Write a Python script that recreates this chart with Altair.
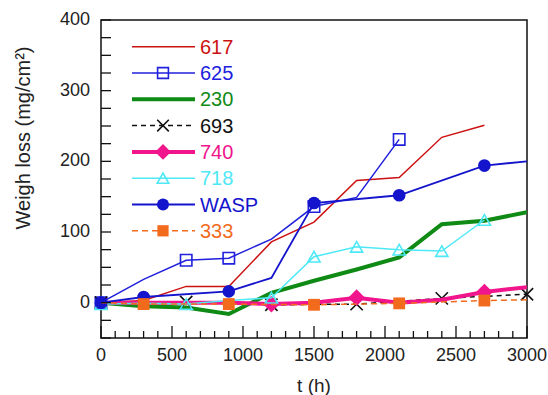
import altair as alt
import pandas as pd

# ---------------- data ----------------
SERIES = ["617", "625", "230", "693", "740", "718", "WASP", "333"]

T_617 = [0, 300, 600, 900, 1200, 1500, 1800, 2100, 2400, 2700]
W_617 = [0, 3, 23, 23, 86, 114, 173, 177, 234, 251]
M_617 = []

T_625 = [0, 300, 600, 900, 1200, 1500, 1800, 2100]
W_625 = [0, 33, 60, 63, 90, 136, 149, 231]
M_625 = [0, 600, 900, 1500, 2100]

T_230 = [0, 300, 600, 900, 1200, 1500, 1800, 2100, 2400, 2700, 3000]
W_230 = [0, -5, -7, -16, 14, 31, 47, 64, 111, 116, 128]
M_230 = []

T_693 = [0, 600, 1200, 1800, 2400, 3000]
W_693 = [0, 1, -3, -2, 6, 12]
M_693 = [0, 600, 1200, 1800, 2400, 3000]

T_740 = [0, 300, 600, 900, 1200, 1500, 1800, 2100, 2400, 2700, 3000]
W_740 = [0, 0, 0, 0, -2, 0, 7, 0, 4, 15, 22]
M_740 = [1200, 1800, 2700]

T_718 = [0, 300, 600, 900, 1200, 1500, 1800, 2100, 2400, 2700]
W_718 = [-2, -1, -2, 3, 7, 65, 79, 75, 73, 117]
M_718 = [0, 600, 1200, 1500, 1800, 2100, 2400, 2700]

T_WASP = [0, 300, 900, 1200, 1500, 2100, 2700, 3000]
W_WASP = [0, 8, 16, 35, 141, 152, 194, 200]
M_WASP = [0, 300, 900, 1500, 2100, 2700]

T_333 = [0, 300, 900, 1500, 2100, 2700, 3000]
W_333 = [0, -2, -2, -3, -1, 3, 4]
M_333 = [300, 900, 1500, 2100, 2700]

X_TICKS_MINOR = list(range(0, 3001, 100))
X_TICKS_MAJOR = list(range(0, 3001, 500))
Y_TICKS = list(range(-50, 401, 25))
Y_LABELS = [0, 100, 200, 300, 400]
X_TITLE = "t (h)"
Y_TITLE = "Weigh loss (mg/cm²)"

# ---------------- styles ----------------
XPATH = "M-1,-1L1,1M-1,1L1,-1"
STYLE = {
    "617":  dict(color="#cc1111", width=1.5, dash=None,   shape=None,          filled=False, size=0),
    "625":  dict(color="#2020dd", width=1.5, dash=None,   shape="square",      filled=False, size=130),
    "230":  dict(color="#0f8a14", width=4.0, dash=None,   shape=None,          filled=False, size=0),
    "693":  dict(color="#111111", width=1.5, dash=[5, 4], shape=XPATH,         filled=False, size=150),
    "740":  dict(color="#f0158c", width=4.0, dash=None,   shape="diamond",     filled=True,  size=280),
    "718":  dict(color="#4fe8f6", width=1.5, dash=None,   shape="triangle-up", filled=False, size=150),
    "WASP": dict(color="#1414cc", width=1.8, dash=None,   shape="circle",      filled=True,  size=160),
    "333":  dict(color="#f26b1d", width=1.5, dash=[6, 4], shape="square",      filled=True,  size=140),
}
DATA = {
    "617": (T_617, W_617, M_617), "625": (T_625, W_625, M_625),
    "230": (T_230, W_230, M_230), "693": (T_693, W_693, M_693),
    "740": (T_740, W_740, M_740), "718": (T_718, W_718, M_718),
    "WASP": (T_WASP, W_WASP, M_WASP), "333": (T_333, W_333, M_333),
}

W, H = 426, 318
FONT = "Liberation Sans"
TXT = "#222222"
xs = alt.Scale(domain=[0, 3000], nice=False, zero=False)
ys = alt.Scale(domain=[-50, 400], nice=False, zero=False)


def X(f="t:Q"):
    return alt.X(f, scale=xs, axis=None)


def Y(f="w:Q"):
    return alt.Y(f, scale=ys, axis=None)


layers = []

# data layers
for s in SERIES:
    T, V, M = DATA[s]
    st = STYLE[s]
    df = pd.DataFrame({"t": T, "w": V})
    lk = dict(color=st["color"], strokeWidth=st["width"], clip=True)
    if st["dash"]:
        lk["strokeDash"] = st["dash"]
    layers.append(alt.Chart(df).mark_line(**lk).encode(x=X(), y=Y()))
    if st["shape"] and M:
        mdf = df[df["t"].isin(M)]
        pk = dict(shape=st["shape"], size=st["size"], opacity=1, strokeWidth=1.6,
                  filled=st["filled"], color=st["color"])
        layers.append(alt.Chart(mdf).mark_point(**pk).encode(x=X(), y=Y()))

# inward tick marks: each tick is a two-point segment (lengths in pixels -> data units)
UY = 450 / H
UX = 3000 / W
rows = []
for k, v in enumerate(X_TICKS_MINOR):
    L = 12 if v in X_TICKS_MAJOR else 7
    rows += [{"id": f"x{k}", "t": v, "w": -50.0}, {"id": f"x{k}", "t": v, "w": -50 + L * UY}]
for k, v in enumerate(Y_TICKS):
    rows += [{"id": f"y{k}", "t": 0.0, "w": v}, {"id": f"y{k}", "t": 10 * UX, "w": v}]
tickdf = pd.DataFrame(rows)
layers.append(alt.Chart(tickdf).mark_line(color="#111111", strokeWidth=1.3).encode(
    x=X(), y=Y(), detail="id:N", order="w:Q"))

# tick labels and axis titles as text marks
layers.append(alt.Chart(pd.DataFrame({"t": X_TICKS_MAJOR})).mark_text(
    align="center", baseline="middle", font=FONT, fontSize=18, color=TXT).encode(
    x=X(), y=alt.value(H + 18), text=alt.Text("t:Q", format="d")))
layers.append(alt.Chart(pd.DataFrame({"w": Y_LABELS})).mark_text(
    align="right", baseline="middle", font=FONT, fontSize=18, color=TXT).encode(
    y=Y(), x=alt.value(-11), text=alt.Text("w:Q", format="d")))
layers.append(alt.Chart(alt.Data(values=[{"label": X_TITLE}])).mark_text(
    align="center", baseline="middle", font=FONT, fontSize=19, color=TXT).encode(
    x=alt.value(W / 2), y=alt.value(H + 48), text="label:N"))
layers.append(alt.Chart(alt.Data(values=[{"label": Y_TITLE}])).mark_text(
    align="center", baseline="middle", font=FONT, fontSize=20, color=TXT, angle=270).encode(
    x=alt.value(-77), y=alt.value(118), text="label:N"))

# legend layers (layout positions in pixels)
LEG_Y0, LEG_STEP = 26.7, 26.3
LEG_X1, LEG_X2, LEG_XM, LEG_XT = 31, 94, 62, 99
for i, s in enumerate(SERIES):
    st = STYLE[s]
    yy = LEG_Y0 + i * LEG_STEP
    one = alt.Data(values=[{"label": s}])
    rk = dict(color=st["color"], strokeWidth=st["width"])
    if st["dash"]:
        rk["strokeDash"] = st["dash"]
    layers.append(alt.Chart(one).mark_rule(**rk).encode(
        x=alt.value(LEG_X1), x2=alt.value(LEG_X2), y=alt.value(yy)))
    if st["shape"]:
        layers.append(alt.Chart(one).mark_point(
            shape=st["shape"], size=st["size"] * 0.9, opacity=1, strokeWidth=1.6,
            filled=st["filled"], color=st["color"]).encode(
            x=alt.value(LEG_XM), y=alt.value(yy)))
    layers.append(alt.Chart(one).mark_text(
        align="left", baseline="middle", font=FONT, fontSize=20, color=st["color"]).encode(
        x=alt.value(LEG_XT), y=alt.value(yy + 1), text="label:N"))

chart = alt.layer(*layers).properties(
    width=W, height=H,
    autosize=alt.AutoSizeParams(type="none"),
    padding={"left": 101, "top": 20, "right": 21, "bottom": 57},
    background="white",
).configure_view(stroke="#111", strokeWidth=1.5)

chart.save("out.html", embed_options={"renderer": "svg", "actions": False})
